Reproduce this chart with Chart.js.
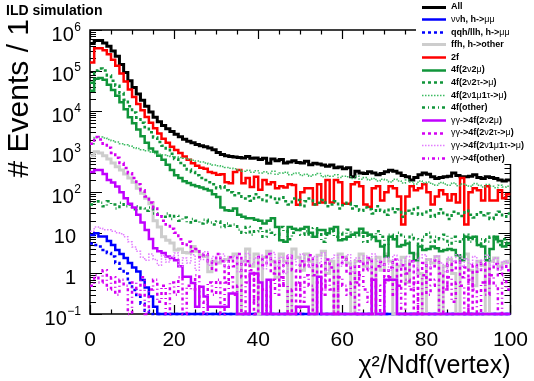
<!DOCTYPE html>
<html lang="en">
<head>
<meta charset="UTF-8">
<title>Vertex chi2/Ndf</title>
<style>
  body { margin: 0; background: #fff; }
</style>
</head>
<body>
<canvas id="chart" width="534" height="381"></canvas>
<script src="https://cdn.jsdelivr.net/npm/chart.js"></script>
<script>
var FONT = '"Liberation Sans", Arial, Helvetica, sans-serif';
var Y_MIN = 0.1, Y_MAX = 1e6;

// axis decorations
var xMajorTicks = [0, 20, 40, 60, 80, 100];
var xMinorStep = 5;
var yDecades = [-1, 0, 1, 2, 3, 4, 5, 6];

// events per bin, 100 bins of width 1 from 0 to 100
var allEv = [
  468000, 550000, 550000, 479000, 398000, 302000, 224000, 141000, 89000, 56000,
  38000, 26300, 18600, 13200, 9500, 7100, 5500, 4400, 3700, 3160,
  2690, 2340, 2040, 1820, 1660, 1510, 1410, 1320, 1230, 1120,
  955, 850, 795, 760, 740, 720, 700, 760, 690, 700,
  640, 690, 520, 660, 600, 640, 530, 560, 600, 540,
  530, 580, 480, 520, 500, 470, 440, 470, 400, 420,
  380, 400, 240, 330, 300, 290, 320, 300, 270, 290,
  320, 350, 330, 300, 260, 240, 200, 230, 270, 300,
  280, 240, 220, 230, 240, 250, 300, 260, 240, 240,
  250, 270, 230, 220, 240, 230, 220, 200, 190, 200
];
var nnhMuMu = [
  8.9, 9.8, 8.1, 8.1, 6.3, 5.0, 3.8, 3.0, 2.4, 1.8,
  1.4, 1.12, 0.69, 0.45, 0.27, 0.15, 0, 0, 0, 0,
  0, 0, 0, 0, 0, 0, 0, 0, 0, 0,
  0, 0, 0, 0, 0, 0, 0, 0, 0, 0,
  0, 0, 0, 0, 0, 0, 0, 0, 0, 0,
  0, 0, 0, 0, 0, 0, 0, 0, 0, 0,
  0, 0, 0, 0, 0, 0, 0, 0, 0, 0,
  0, 0, 0, 0, 0, 0, 0, 0, 0, 0,
  0, 0, 0, 0, 0, 0, 0, 0, 0, 0,
  0, 0, 0, 0, 0, 0, 0, 0, 0, 0
];
var qqhMuMu = [
  5.5, 5.0, 4.6, 3.8, 3.2, 2.6, 1.8, 1.3, 1.0, 0.58,
  0.39, 0.27, 0.18, 0.12, 0, 0, 0, 0, 0, 0,
  0, 0, 0, 0, 0, 0, 0, 0, 0, 0,
  0, 0, 0, 0, 0, 0, 0, 0, 0, 0,
  0, 0, 0, 0, 0, 0, 0, 0, 0, 0,
  0, 0, 0, 0, 0, 0, 0, 0, 0, 0,
  0, 0, 0, 0, 0, 0, 0, 0, 0, 0,
  0, 0, 0, 0, 0, 0, 0, 0, 0, 0,
  0, 0, 0, 0, 0, 0, 0, 0, 0, 0,
  0, 0, 0, 0, 0, 0, 0, 0, 0, 0
];
var ffhOther = [
  794, 1000, 933, 794, 661, 525, 427, 355, 282, 224,
  178, 126, 95, 71, 52, 20, 14, 8, 6.6, 5.6,
  3.8, 4, 3.3, 3.2, 4.6, 3.5, 2.8, 2.6, 1.1, 2,
  1.8, 2.1, 2.2, 2.5, 3, 0, 2, 4, 1.5, 3,
  0, 2.5, 3.5, 2, 0.8, 3, 2, 0, 4, 2.5,
  1.2, 3, 2, 0, 2.8, 3.5, 1, 2, 0, 3,
  2.5, 1.8, 0, 2, 3, 1.5, 2.2, 0, 2.5, 1.2,
  3, 2, 0, 1.5, 2.5, 0.6, 2, 3, 1, 0,
  2.2, 1.8, 2.6, 0, 1.5, 2.2, 1, 0, 2.5, 3,
  1.2, 0.5, 2, 1.6, 0, 2, 2.4, 1.5, 1.8, 2
];
var twoF = [
  158000, 355000, 355000, 316000, 251000, 186000, 132000, 85000, 54000, 34000,
  22400, 15100, 10500, 7200, 5200, 3800, 2800, 2100, 1660, 1320,
  1100, 930, 760, 630, 520, 450, 400, 380, 316, 300,
  270, 280, 178, 166, 316, 355, 166, 224, 135, 240,
  115, 200, 158, 178, 126, 141, 132, 158, 151, 49,
  100, 126, 126, 50, 158, 56, 200, 56, 200, 178,
  52, 52, 158, 178, 141, 50, 44, 126, 141, 63,
  100, 141, 126, 79, 16, 79, 141, 112, 126, 158,
  100, 50, 79, 112, 89, 63, 89, 56, 224, 16,
  100, 126, 112, 63, 141, 63, 63, 112, 71, 89
];
var f4_2n2mu = [
  31600, 63000, 66000, 59000, 44700, 33000, 24000, 16600, 11200, 7100,
  5000, 3550, 2400, 1660, 1200, 1000, 800, 630, 480, 355,
  263, 224, 186, 170, 151, 141, 132, 120, 110, 89,
  76, 42, 36, 35, 40, 28, 25, 23, 23, 21,
  20, 17, 20, 23, 14, 6.6, 6, 14, 12.6, 11.7,
  12.6, 14, 10, 8, 11.7, 11.7, 9.8, 12.6, 14, 6.6,
  7, 8, 9, 10, 12.6, 10, 9, 8, 6.3, 4.6,
  2.6, 8, 7, 4.6, 5, 5.5, 3.2, 2.1, 4.6, 3.8,
  4, 4.6, 4.2, 3.5, 3.8, 4, 3.8, 2.8, 2.1, 8,
  7.6, 8, 5, 4.6, 2.1, 4, 8, 6.3, 4.6, 5.5
];
var f4_2n2tau = [
  50000, 100000, 112000, 100000, 76000, 56000, 42000, 28000, 19000, 13200,
  9300, 6900, 5200, 4000, 3000, 2240, 1740, 1410, 1120, 890,
  660, 525, 457, 363, 316, 263, 224, 200, 178, 158,
  126, 141, 112, 100, 85, 95, 70, 80, 62, 90,
  75, 60, 85, 70, 55, 75, 60, 50, 70, 65,
  45, 60, 70, 50, 55, 65, 45, 50, 60, 40,
  48, 55, 40, 45, 35, 42, 38, 30, 45, 35,
  28, 40, 32, 38, 25, 35, 30, 42, 28, 32,
  36, 25, 30, 38, 28, 22, 33, 30, 26, 35,
  28, 24, 32, 27, 30, 22, 28, 33, 25, 30
];
var f4_1mu1tau = [
  1580, 2240, 2290, 2190, 2000, 1860, 1740, 1580, 1480, 1380,
  1260, 1200, 1120, 1050, 980, 910, 870, 830, 795, 760,
  740, 720, 690, 650, 620, 590, 560, 530, 500, 470,
  450, 430, 410, 390, 380, 360, 330, 350, 310, 340,
  300, 320, 290, 330, 280, 300, 310, 270, 290, 300,
  260, 280, 250, 270, 290, 240, 260, 250, 270, 230,
  250, 240, 220, 250, 210, 230, 200, 220, 190, 210,
  200, 180, 210, 190, 170, 200, 180, 160, 190, 170,
  180, 160, 150, 175, 160, 150, 170, 145, 160, 150,
  140, 165, 150, 135, 155, 140, 130, 150, 135, 140
];
var f4_other = [
  50, 60, 55, 45, 60, 50, 40, 55, 45, 50,
  38, 45, 40, 35, 42, 30, 28, 25, 30, 22,
  26, 20, 24, 18, 22, 20, 17, 21, 18, 16,
  19, 14, 17, 15, 16, 12, 10, 14, 9, 11,
  13, 8, 12, 10, 9, 14, 11, 7, 10, 12,
  9, 11, 8, 13, 10, 6, 9, 11, 8, 10,
  7, 12, 9, 8, 10, 6, 9, 7, 11, 8,
  5, 9, 7, 10, 8, 6, 9, 7, 5, 8,
  10, 6, 8, 7, 9, 5, 8, 6, 7, 9,
  6, 8, 5, 7, 6, 8, 7, 5, 7, 6
];
var gg_2n2mu = [
  316, 355, 355, 282, 200, 174, 138, 100, 71, 52,
  42, 28, 18, 11.7, 7.1, 4.2, 3.5, 3.2, 2.6, 2.4,
  2.1, 1.5, 0.83, 0.83, 0.58, 0.15, 0.47, 0.27, 0.15, 0.15,
  0.15, 0.15, 0.15, 0.32, 0.32, 0, 0, 0, 1.0, 1.0,
  0.6, 0, 0.7, 0, 0, 0, 0, 0, 0, 0.15,
  0.15, 0.15, 0, 0, 0.83, 0, 0, 0, 0, 0,
  0, 0, 0, 0, 0, 0, 0, 0.7, 0, 0,
  0.7, 0.7, 0.7, 0, 0, 0, 0, 0, 0, 0,
  0, 0, 0, 0, 0, 0, 0, 0, 0, 0,
  0, 0, 0, 0, 0, 0, 0, 0, 0, 0
];
var gg_2n2tau = [
  1580, 2290, 2000, 1580, 1260, 933, 708, 525, 398, 295,
  224, 158, 112, 79, 56, 40, 28, 20, 16, 12.6,
  10, 7, 5, 6, 3.5, 4, 2.5, 3, 2, 1.2,
  3, 2, 0.6, 2.5, 1.5, 3, 0.8, 2, 1.2, 0,
  2.5, 1.6, 3, 1, 2, 0.5, 1.8, 2.6, 1.2, 0,
  2, 1.5, 2.8, 0.9, 1.6, 0.4, 2.2, 1.4, 0, 1.8,
  2.5, 1, 1.5, 0.6, 2, 1.2, 2.4, 0, 1.5, 1.9,
  0.8, 1.4, 2.2, 0.5, 1.6, 1, 2, 0, 1.3, 1.8,
  0.7, 1.5, 2.1, 1, 0.4, 1.7, 1.2, 2, 0.8, 1.4,
  0, 1.6, 1.1, 1.8, 0.6, 1.3, 1.7, 0.9, 1.5, 1.2
];
var gg_1mu1tau = [
  11, 14, 13, 12, 12, 11, 10, 9.5, 8, 6,
  4.5, 3.5, 2.5, 2.1, 3, 2.2, 1.6, 2.8, 1.9, 2.5,
  3.2, 1.5, 2.4, 1.8, 2.9, 1.2, 2.2, 3.4, 1.6, 2.6,
  1.9, 3, 1.4, 2.3, 2.7, 1.1, 2, 3.1, 1.7, 2.4,
  2.8, 1.3, 2.1, 3.3, 1.5, 2.5, 1, 2.9, 2.2, 1.6,
  3, 2, 1.4, 2.6, 1.8, 3.2, 1.2, 2.3, 2.8, 1.5,
  2.1, 2.9, 1.1, 2.4, 1.9, 2.7, 1.3, 3, 2, 1.6,
  2.5, 1.2, 2.8, 2.1, 1.5, 2.6, 1.9, 1, 2.4, 2.9,
  1.4, 2.2, 2.7, 1.8, 1.1, 2.5, 2, 2.9, 1.5, 2.3,
  1.7, 2.6, 1.3, 2.1, 2.8, 1.6, 2.4, 1.2, 2, 1.8
];
var gg_other = [
  0.5, 0.9, 0.6, 1.2, 0.4, 0.8, 0.3, 0.7, 0.5, 0,
  0.6, 0.3, 0.8, 0, 0.4, 0.7, 0.2, 0.5, 0, 0.6,
  0.3, 0.8, 0, 0.5, 0.4, 0.9, 0.2, 0, 0.6, 0.3,
  0.7, 0, 0.4, 0.8, 0.3, 0.5, 0, 0.6, 0.9, 0.2,
  0.5, 0.4, 0, 0.7, 0.3, 0.8, 0.5, 0, 0.4, 0.6,
  0.2, 0.9, 0.5, 0, 0.6, 0.3, 0.7, 0.4, 0, 0.8,
  0.5, 0.3, 0.6, 0, 0.9, 0.4, 0.2, 0.7, 0.5, 0,
  0.6, 0.8, 0.3, 0.5, 0, 0.7, 0.4, 0.6, 0, 0.9,
  0.3, 0.5, 0.7, 0, 0.4, 0.8, 0.2, 0.6, 0.5, 0,
  0.7, 0.4, 0, 0.6, 0.3, 0.9, 0.5, 0, 0.7, 0.4
];

var GREEN = '#10953a', GREEN_LT = '#3cbb62', VIOLET = '#c000ff', MAG = '#d400f2', MAG_LT = '#e27cff';

var series = [
  { label: 'All', data: allEv, color: '#000000', width: 3, dash: [] },
  { label: 'ννh, h->μμ', data: nnhMuMu, color: '#0000ff', width: 2.5, dash: [] },
  { label: 'qqh/llh, h->μμ', data: qqhMuMu, color: '#0000ff', width: 2.5, dash: [3, 3] },
  { label: 'ffh, h->other', data: ffhOther, color: '#cdcdcd', width: 3, dash: [] },
  { label: '2f', data: twoF, color: '#ff0000', width: 2.5, dash: [] },
  { label: '4f(2ν2μ)', data: f4_2n2mu, color: GREEN, width: 2.5, dash: [] },
  { label: '4f(2ν2τ->μ)', data: f4_2n2tau, color: GREEN, width: 2.5, dash: [3, 3] },
  { label: '4f(2ν1μ1τ->μ)', data: f4_1mu1tau, color: GREEN_LT, width: 1.5, dash: [1.5, 1.5] },
  { label: '4f(other)', data: f4_other, color: GREEN, width: 2.5, dash: [3, 3, 1, 3] },
  { label: 'γγ->4f(2ν2μ)', data: gg_2n2mu, color: VIOLET, width: 2.5, dash: [] },
  { label: 'γγ->4f(2ν2τ->μ)', data: gg_2n2tau, color: MAG, width: 2.5, dash: [3, 3] },
  { label: 'γγ->4f(2ν1μ1τ->μ)', data: gg_1mu1tau, color: MAG_LT, width: 1.5, dash: [1.5, 1.5] },
  { label: 'γγ->4f(other)', data: gg_other, color: MAG, width: 2.5, dash: [3, 3, 1, 3] }
];

// histogram outline: one point per lower bin edge plus the upper edge of the last bin;
// empty bins sit on the axis minimum like in ROOT
function binPoints(vals) {
  var pts = vals.map(function (v, i) { return { x: i, y: Math.max(v, Y_MIN) }; });
  pts.push({ x: vals.length, y: Math.max(vals[vals.length - 1], Y_MIN) });
  return pts;
}

var datasets = series.map(function (s, i) {
  return {
    label: s.label,
    data: binPoints(s.data),
    borderColor: s.color,
    borderWidth: s.width,
    borderDash: s.dash,
    borderCapStyle: 'butt',
    borderJoinStyle: 'miter',
    stepped: 'before',
    fill: false,
    pointRadius: 0,
    order: series.length - i,
    clip: { left: 0, top: 0, right: 0, bottom: 2 }
  };
});

// frame with inside ticks on all four sides
var rootFrame = {
  id: 'rootFrame',
  beforeDatasetsDraw: function (chart) {
    var ctx = chart.ctx, a = chart.chartArea, xs = chart.scales.x, ys = chart.scales.y;
    ctx.save();
    ctx.strokeStyle = '#000';
    ctx.lineWidth = 1.5;
    ctx.strokeRect(a.left, a.top, a.right - a.left, a.bottom - a.top);
    ctx.lineWidth = 1.2;
    ctx.beginPath();
    for (var v = 0; v <= 100; v += xMinorStep) {
      var px = Math.round(xs.getPixelForValue(v)) + 0.5;
      var len = xMajorTicks.indexOf(v) >= 0 ? 9 : 4.5;
      ctx.moveTo(px, a.bottom); ctx.lineTo(px, a.bottom - len);
      ctx.moveTo(px, a.top); ctx.lineTo(px, a.top + len);
    }
    yDecades.forEach(function (p) {
      for (var m = 1; m <= 9; m++) {
        var val = m * Math.pow(10, p);
        if (val > Y_MAX * 1.0001) break;
        var py = Math.round(ys.getPixelForValue(val)) + 0.5;
        var l = m === 1 ? 12 : 6;
        ctx.moveTo(a.left, py); ctx.lineTo(a.left + l, py);
        ctx.moveTo(a.right, py); ctx.lineTo(a.right - l, py);
      }
    });
    ctx.stroke();
    ctx.restore();
  },
  afterDraw: function (chart) {
    var ctx = chart.ctx, ys = chart.scales.y;
    ctx.save();
    ctx.fillStyle = '#000';
    // y tick labels, powers of ten with raised exponent
    ctx.textBaseline = 'alphabetic';
    ctx.textAlign = 'right';
    yDecades.forEach(function (p) {
      var ty = ys.getPixelForValue(Math.pow(10, p));
      if (p === 0 || p === 1) {
        ctx.font = '20px ' + FONT;
        ctx.fillText(p === 0 ? '1' : '10', 76, ty + 10.5);
      } else {
        var ex = p < 0 ? '\u2212' + (-p) : String(p);
        ctx.font = '12px ' + FONT;
        var ew = ctx.measureText(ex).width;
        ctx.fillText(ex, 81, ty + 0.5);
        ctx.font = '20px ' + FONT;
        ctx.fillText('10', 81 - ew - 0.5, ty + 10.5);
      }
    });

    // y axis title, right-aligned a little above the frame top
    ctx.save();
    ctx.translate(20, 19);
    ctx.rotate(-Math.PI / 2);
    ctx.textAlign = 'right';
    ctx.textBaseline = 'middle';
    ctx.font = '30px ' + FONT;
    ctx.fillText('# Events / 1', 0, 0);
    ctx.restore();

    // header
    ctx.textAlign = 'left';
    ctx.textBaseline = 'alphabetic';
    ctx.font = 'bold 14px ' + FONT;
    ctx.fillText('ILD simulation', 6, 15);

    // legend box over the upper right corner
    ctx.fillStyle = '#fff';
    ctx.fillRect(416, 0, chart.width - 416, 164);
    chart.data.datasets.forEach(function (ds, i) {
      var y = 6.5 + i * 12.6;
      ctx.save();
      ctx.strokeStyle = ds.borderColor;
      ctx.lineWidth = ds.borderWidth;
      ctx.setLineDash(ds.borderDash);
      ctx.beginPath();
      ctx.moveTo(422, Math.round(y) + 0.5);
      ctx.lineTo(446, Math.round(y) + 0.5);
      ctx.stroke();
      ctx.restore();
      ctx.fillStyle = '#000';
      ctx.textBaseline = 'middle';
      drawLabel(ctx, ds.label, 451, y + 0.5, 9);
    });
    ctx.restore();
  }
};

// Greek letters come out in the regular face, the rest in bold
function drawLabel(ctx, text, x, y, size) {
  text.split(/([\u0370-\u03FF]+)/).forEach(function (part) {
    if (!part) return;
    var greek = /[\u0370-\u03FF]/.test(part);
    ctx.font = (greek ? '' : 'bold ') + size + 'px ' + FONT;
    ctx.fillText(part, x, y);
    x += ctx.measureText(part).width;
  });
}

new Chart(document.getElementById('chart'), {
  type: 'line',
  data: { datasets: datasets },
  options: {
    responsive: false,
    animation: false,
    devicePixelRatio: 1,
    layout: { padding: { left: 0, right: 19, top: 30, bottom: 0 } },
    plugins: { legend: { display: false }, tooltip: { enabled: false } },
    elements: { line: { tension: 0 } },
    scales: {
      x: {
        type: 'linear', min: 0, max: 100,
        grid: { display: false }, border: { display: false },
        ticks: { stepSize: 20, autoSkip: false, maxRotation: 0, padding: 6, color: '#000', font: { family: FONT, size: 21 } },
        title: { display: true, text: 'χ²/Ndf(vertex)', align: 'end', color: '#000', padding: 0, font: { family: FONT, size: 25 } },
        afterFit: function (s) { s.height = 67; }
      },
      y: {
        type: 'logarithmic', min: Y_MIN, max: Y_MAX,
        grid: { display: false }, border: { display: false },
        ticks: { display: false },
        afterFit: function (s) { s.width = 90; }
      }
    }
  },
  plugins: [rootFrame]
});
</script>
</body>
</html>
